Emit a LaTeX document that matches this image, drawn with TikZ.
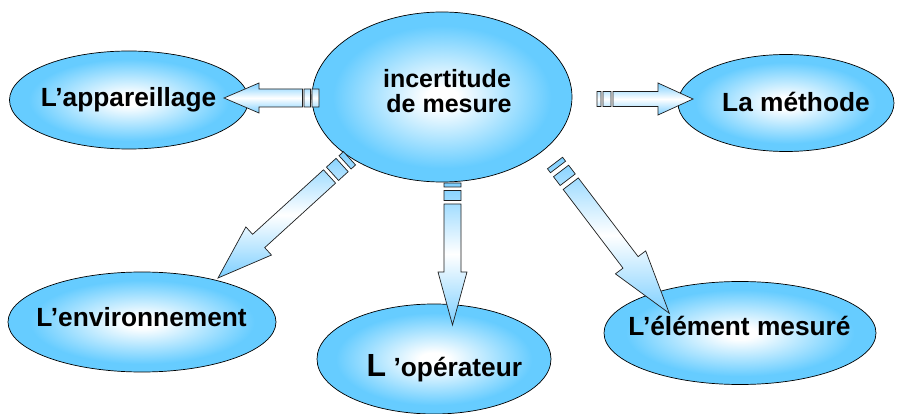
\documentclass[tikz,border=0pt]{standalone}
\usepackage{fontspec}
\setmainfont{Liberation Sans}
\usetikzlibrary{shapes.geometric,calc}
\definecolor{sky}{RGB}{102,204,255}
\definecolor{arrowblue}{RGB}{125,207,255}
\definecolor{edgegray}{RGB}{30,30,30}
\pgfdeclareradialshading{ellshade}{\pgfpoint{0bp}{0bp}}{color(0bp)=(white); color(3bp)=(white); color(21bp)=(sky); color(50bp)=(sky)}

% #1 tail coord, #2 tip coord, #3 half shaft width, #4 half head width,
% #5 head length, #6 first bar length, #7 gap, #8 second bar length
\newcommand\blockarrow[8]{%
  \pgfmathsetmacro\baS{#6}%
  \pgfmathsetmacro\baT{#6+#7}%
  \pgfmathsetmacro\baU{#6+#7+#8}%
  \pgfmathsetmacro\baV{#6+2*#7+#8}%
  \path[arrowbody]
    ($(#1)!#3pt!90:(#2)$) -- ($(#1)!\baS pt!(#2)!#3pt!90:(#2)$) --
    ($(#1)!\baS pt!(#2)!#3pt!-90:(#2)$) -- ($(#1)!#3pt!-90:(#2)$) -- cycle
    ($(#1)!\baT pt!(#2)!#3pt!90:(#2)$) -- ($(#1)!\baU pt!(#2)!#3pt!90:(#2)$) --
    ($(#1)!\baU pt!(#2)!#3pt!-90:(#2)$) -- ($(#1)!\baT pt!(#2)!#3pt!-90:(#2)$) -- cycle
    ($(#1)!\baV pt!(#2)!#3pt!90:(#2)$) -- ($(#2)!#5pt!(#1)!#3pt!-90:(#1)$) --
    ($(#2)!#5pt!(#1)!#4pt!-90:(#1)$) -- (#2) --
    ($(#2)!#5pt!(#1)!#4pt!90:(#1)$) -- ($(#2)!#5pt!(#1)!#3pt!90:(#1)$) --
    ($(#1)!\baV pt!(#2)!#3pt!-90:(#2)$) -- cycle;%
}

\begin{document}
\begin{tikzpicture}[x=1pt,y=-1pt,
  ell/.style={ellipse, draw=black, line width=0.7pt, shade, shading=ellshade, inner sep=0pt},
  arrowbody/.style={draw=edgegray, line width=0.7pt, line join=miter,
    top color=arrowblue, bottom color=arrowblue, middle color=white},
  lbl/.style={anchor=base, inner sep=0pt, font=\bfseries\fontsize{26.3}{26.3}\selectfont},
  clbl/.style={anchor=base, inner sep=0pt, font=\bfseries\fontsize{25}{25}\selectfont}]
\useasboundingbox (0,0) rectangle (908,414);

% ellipses
\node[ell, minimum width=260pt, minimum height=170pt] (inc) at (442,97) {};
\node[ell, minimum width=239pt, minimum height=98pt] (app) at (129,100) {};
\node[ell, minimum width=216pt, minimum height=97pt] (meth) at (786,103) {};
\node[ell, minimum width=268pt, minimum height=100pt] (env) at (142,322) {};
\node[ell, minimum width=234pt, minimum height=110pt] (op) at (434,359) {};
\node[ell, minimum width=272pt, minimum height=103pt] (elem) at (740,333) {};

% arrow end points
\coordinate (aL1) at (319,98);   \coordinate (aL2) at (224,98);
\coordinate (aR1) at (597,99);   \coordinate (aR2) at (693,99);
\coordinate (aD1) at (452.5,183); \coordinate (aD2) at (452.5,325);
\coordinate (aG1) at (349.5,158.3); \coordinate (aG2) at (218,278);
\coordinate (aE1) at (555,163);  \coordinate (aE2) at (669.3,313.3);

\blockarrow{aL1}{aL2}{9}{15}{35}{7}{1.5}{6.5}
\blockarrow{aR1}{aR2}{7.5}{16}{35}{4}{2}{8}
\blockarrow{aD1}{aD2}{8.5}{14.5}{53}{4}{3.5}{10}
\blockarrow{aG1}{aG2}{9}{19}{55}{6}{4}{13}
\blockarrow{aE1}{aE2}{9.5}{19}{64}{5}{5}{11}

% texts
\node[clbl] (t1) at (447,88) {incertitude};
\node[clbl] (t2) at (449,113) {de mesure};
\node[lbl] (tapp) at (128.5,107) {L’appareillage};
\node[lbl] (tmeth) at (796,112) {La méthode};
\node[lbl] (tenv) at (141.5,326) {L’environnement};
\node[lbl] (telem) at (739.5,335) {L’élément mesuré};
\node[lbl, anchor=base west] (top) at (366.5,376) {{\fontsize{32}{32}\selectfont L} ’opérateur};
\end{tikzpicture}
\end{document}
